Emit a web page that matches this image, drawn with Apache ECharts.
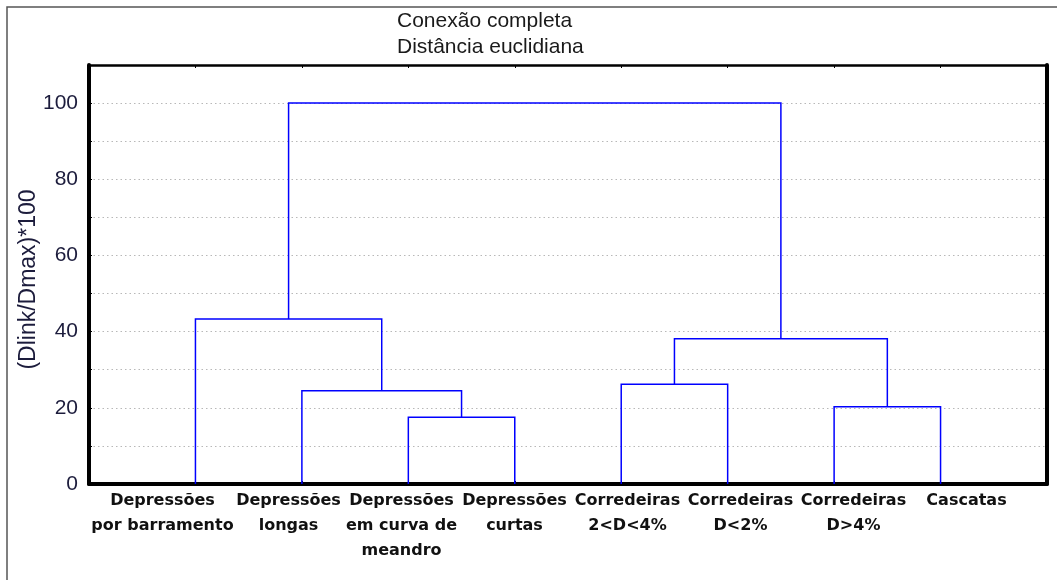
<!DOCTYPE html>
<html>
<head>
<meta charset="utf-8">
<script src="https://cdn.jsdelivr.net/npm/echarts@6/dist/echarts.min.js"></script>
<style>html,body{margin:0;padding:0;background:#fff}#c{width:1057px;height:580px}</style>
</head>
<body>
<div id="c"></div>
<script>
// Leaves (in dendrogram order)
const leaves = ['Depressões\npor barramento','Depressões\nlongas','Depressões\nem curva de\nmeandro','Depressões\ncurtas','Corredeiras\n2<D<4%','Corredeiras\nD<2%','Corredeiras\nD>4%','Cascatas'];
// Merges: node ids 0..7 are leaves, merge k creates node 8+k
const mergeA = [2, 6, 1, 4, 11, 0, 13];
const mergeB = [3, 7, 8, 5, 9, 10, 12];
const mergeHeight = [17.5, 20.3, 24.5, 26.2, 38.1, 43.3, 100];
const yTicks = [0, 20, 40, 60, 80, 100];

const nodeX = leaves.map((_, i) => i + 1);
const nodeH = leaves.map(() => 0);
const links = [];
for (let k = 0; k < mergeA.length; k++) {
  const a = mergeA[k], b = mergeB[k], h = mergeHeight[k];
  links.push({coords: [[nodeX[a], nodeH[a]], [nodeX[a], h], [nodeX[b], h], [nodeX[b], nodeH[b]]]});
  nodeX.push((nodeX[a] + nodeX[b]) / 2);
  nodeH.push(h);
}

const labelFont = {fontFamily: 'DejaVu Sans', fontWeight: 'bold', fontSize: 16, lineHeight: 25, color: '#111', align: 'center'};

const chart = echarts.init(document.getElementById('c'), null, {renderer: 'canvas'});
chart.setOption({
  animation: false,
  backgroundColor: '#fff',
  title: {
    text: 'Conexão completa\nDistância euclidiana',
    left: 392, top: 3,
    textStyle: {fontFamily: 'Liberation Sans', fontSize: 21, fontWeight: 'normal', color: '#1a1a1a', lineHeight: 26}
  },
  graphic: [{
    type: 'rect', silent: true, z: -1,
    shape: {x: 7, y: 7, width: 1300, height: 800},
    style: {fill: 'none', stroke: '#555', lineWidth: 1.5}
  }],
  grid: [
    {left: 89, right: 10, top: 65, bottom: 96, show: false},
    {left: 119, right: 34, top: 65, bottom: 96, show: false}
  ],
  xAxis: [{
    type: 'value', min: 0, max: leaves.length + 1, interval: 1, position: 'bottom', gridIndex: 0,
    axisLine: {show: true, onZero: false, lineStyle: {color: '#000', width: 4}},
    axisTick: {show: true, inside: true, length: 3, lineStyle: {color: '#000'}},
    splitLine: {show: false},
    axisLabel: {show: false}
  }, {
    type: 'value', min: 0, max: leaves.length + 1, interval: 1, position: 'top', gridIndex: 0,
    axisLine: {show: true, onZero: false, lineStyle: {color: '#000', width: 2.5}},
    axisTick: {show: true, inside: true, length: 3, lineStyle: {color: '#000'}},
    splitLine: {show: false},
    axisLabel: {show: false}
  }, {
    type: 'category', data: leaves, gridIndex: 1, position: 'bottom', boundaryGap: true,
    axisLine: {show: false}, axisTick: {show: false}, splitLine: {show: false},
    axisLabel: Object.assign({
      margin: 4, interval: 0,
      formatter: (v, i) => i === 0 ? '{f|' + v.split('\n').join('}\n{f|') + '}' : v,
      rich: {f: Object.assign({}, labelFont, {padding: [0, 26, 0, 0]})}
    }, labelFont)
  }],
  yAxis: [{
    type: 'value', min: 0, max: 110, interval: 10, position: 'left', gridIndex: 0,
    name: '(Dlink/Dmax)*100', nameLocation: 'middle', nameRotate: 90, nameGap: 49,
    nameMoveOverlap: false,
    nameTextStyle: {fontFamily: 'Liberation Sans', fontSize: 23, color: '#1c1c3c', padding: [0, 10, 0, 0]},
    axisLine: {show: true, onZero: false, lineStyle: {color: '#000', width: 4}},
    axisTick: {show: true, inside: true, length: 3, lineStyle: {color: '#000'}},
    splitLine: {show: true, lineStyle: {color: '#b8b8b8', type: [1.5, 3], width: 1}},
    axisLabel: {
      margin: 11,
      formatter: v => yTicks.includes(v) ? String(v) : '',
      fontFamily: 'Liberation Sans', fontSize: 21, color: '#1c1c3c'
    }
  }, {
    type: 'value', min: 0, max: 110, interval: 10, position: 'right', gridIndex: 0,
    axisLine: {show: true, onZero: false, lineStyle: {color: '#000', width: 4}},
    axisTick: {show: false}, splitLine: {show: false}, axisLabel: {show: false}
  }, {
    type: 'value', min: 0, max: 110, gridIndex: 1, show: false
  }],
  series: [{
    type: 'lines',
    coordinateSystem: 'cartesian2d',
    polyline: true,
    xAxisIndex: 0, yAxisIndex: 0,
    lineStyle: {color: '#0000ff', width: 1.5, opacity: 1},
    data: links
  }]
});
</script>
</body>
</html>
